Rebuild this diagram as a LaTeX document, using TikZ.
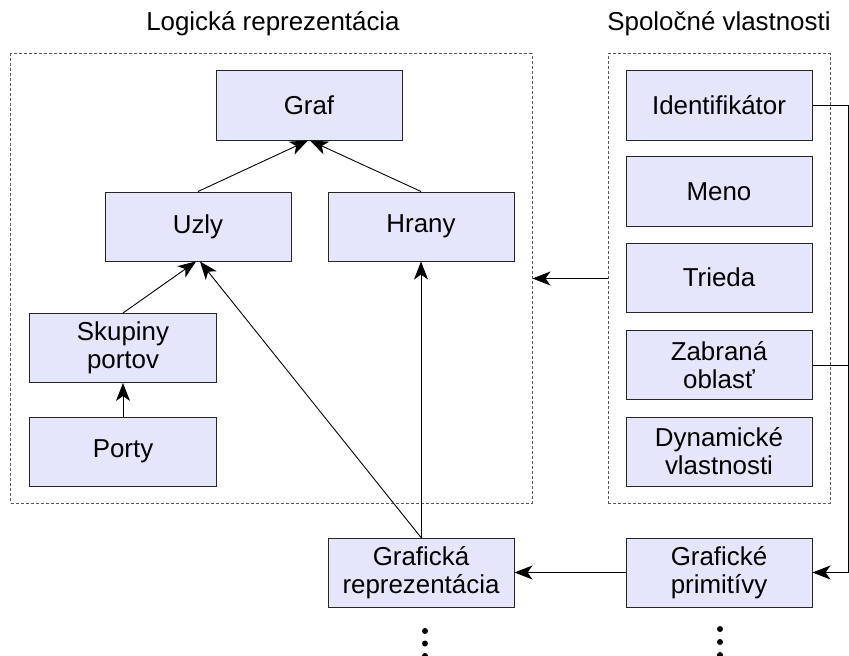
\documentclass[tikz,border=0pt]{standalone}
\usepackage{fontspec}
\setmainfont{Liberation Sans}
\usetikzlibrary{arrows.meta}
\definecolor{boxfill}{RGB}{229,229,252}
\begin{document}
\begin{tikzpicture}[x=1bp,y=-1bp,
  box/.style={draw=black!85, line width=1bp, fill=boxfill, minimum width=186bp, minimum height=69bp, inner sep=0pt, align=center, font=\fontsize{26}{28}\selectfont},
  frame/.style={draw=black!65, line width=1bp, dash pattern=on 3bp off 2bp, minimum height=449bp, inner sep=0pt},
  title/.style={font=\fontsize{26}{28}\selectfont, anchor=base, inner sep=0pt},
  conn/.style={draw=black, line width=0.9bp},
  arr/.style={conn, -{Stealth[length=18bp,width=14bp,inset=5bp]}},
  dot/.style={fill=black, circle, inner sep=0pt, minimum size=6bp}
]
\useasboundingbox (0,0) rectangle (849,656);
% frames
\node[frame, minimum width=521bp] (lframe) at (271.5,278.5) {};
\node[frame, minimum width=222bp] (rframe) at (719,278.5) {};
% titles
\node[title] (t1) at (273,31) {Logická reprezentácia};
\node[title] (t2) at (719,31) {Spoločné vlastnosti};
% boxes
\node[box] (graf) at (309,105.5) {Graf};
\node[box] (uzly) at (198,226.5) {Uzly};
\node[box] (hrany) at (421,226.5) {Hrany};
\node[box] (skup) at (123,348) {Skupiny\\portov};
\node[box] (porty) at (123,451.5) {Porty};
\node[box] (ident) at (719,105.5) {Identifikátor};
\node[box] (meno) at (719,191.5) {Meno};
\node[box] (trieda) at (719,277.5) {Trieda};
\node[box] (zabr) at (719,365) {Zabraná\\oblasť};
\node[box] (dyn) at (719,451.5) {Dynamické\\vlastnosti};
\node[box] (gprim) at (719,572.5) {Grafické\\primitívy};
\node[box] (grep) at (421,572.5) {Grafická\\reprezentácia};
\coordinate (bus) at (848,0);
% connectors
\draw[arr] (uzly.north) -- ([xshift=-1bp]graf.south);
\draw[arr] (hrany.north) -- ([xshift=1bp]graf.south);
\draw[arr] (skup.north) -- ([xshift=-2bp]uzly.south);
\draw[arr] (grep.north) -- ([xshift=2bp]uzly.south);
\draw[arr] (grep.north) -- (hrany.south);
\draw[arr] (porty.north) -- (skup.south);
\draw[arr] (rframe.west) -- (lframe.east);
\draw[arr] (gprim.west) -- (grep.east);
\draw[arr] (ident.east) -- (ident.east -| bus) |- (gprim.east);
\draw[conn] (zabr.east) -- (zabr.east -| bus);
% dots
\node[dot] (d1) at (425,631) {};
\node[dot] (d2) at (425,643.5) {};
\node[dot] (d3) at (425,656) {};
\node[dot] (d4) at (720,629) {};
\node[dot] (d5) at (720,642) {};
\node[dot] (d6) at (720,655) {};
\end{tikzpicture}
\end{document}
